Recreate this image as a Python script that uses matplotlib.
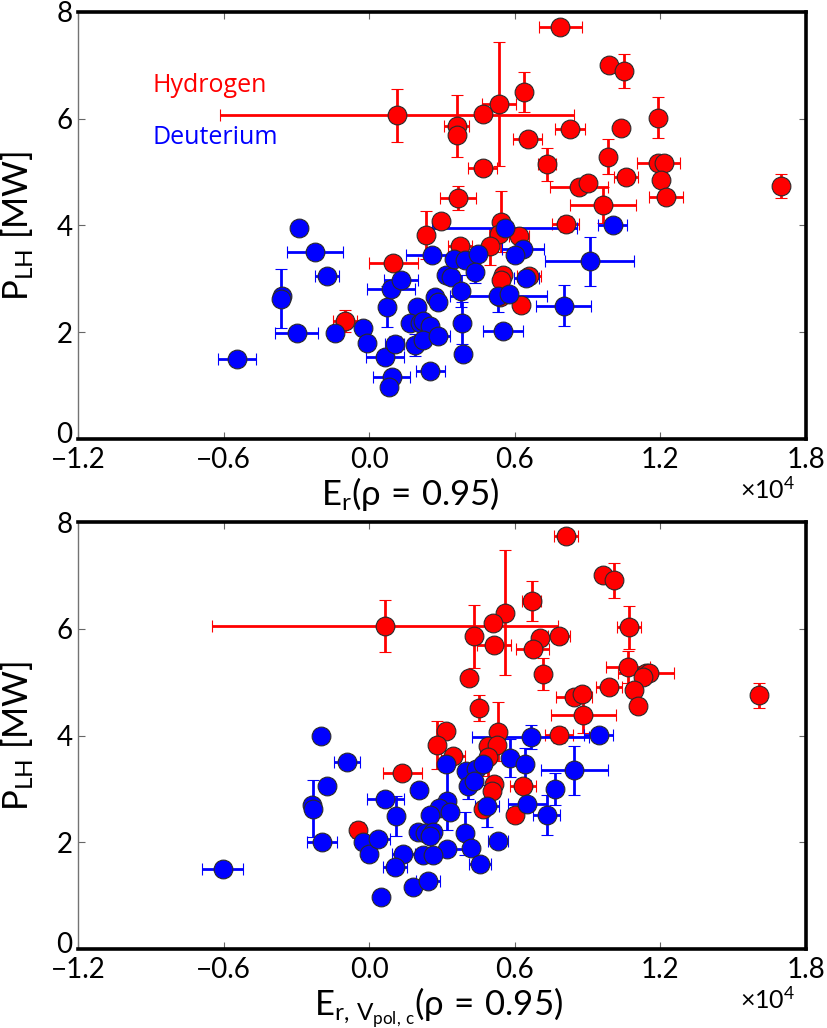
import matplotlib
matplotlib.use("Agg")
import matplotlib.pyplot as plt
import matplotlib.transforms as mtransforms
import numpy as np

plt.rcParams['font.family'] = ['Lato', 'DejaVu Sans']
plt.rcParams['mathtext.fontset'] = 'custom'
plt.rcParams['mathtext.rm'] = 'Lato'
plt.rcParams['mathtext.it'] = 'Lato'

# ---- upper panel: E_r at rho = 0.95 (units of 1e4) ----
top_h_x = [0.115, 0.36, 0.36, 0.365, 0.297, 0.236, 0.10, -0.10, 0.787, 0.99, 1.049, 0.535, 0.64, 0.467,
           0.827, 1.036, 1.192, 0.654, 0.467, 0.733, 0.986, 1.058, 1.192, 1.213, 1.203, 1.225, 1.697,
           0.866, 0.901, 0.963, 0.81, 0.545, 0.535, 0.617, 0.373, 0.497, 0.552, 0.543, 0.658, 0.537, 0.624]
top_h_y = [6.06, 5.86, 5.69, 4.51, 4.08, 3.82, 3.29, 2.21, 7.72, 7.00, 6.89, 6.28, 6.50, 6.09,
           5.81, 5.83, 6.02, 5.62, 5.07, 5.15, 5.29, 4.91, 5.17, 5.17, 4.85, 4.54, 4.74,
           4.72, 4.79, 4.38, 4.02, 4.07, 3.84, 3.81, 3.61, 3.61, 3.07, 2.98, 3.05, 2.66, 2.51]
top_h_xerr = [0.73, 0.05, 0, 0.075, 0, 0, 0.10, 0.05, 0.088, 0, 0, 0.07, 0, 0,
              0.062, 0, 0, 0.06, 0.058, 0.037, 0, 0.05, 0.09, 0, 0, 0.07, 0,
              0.12, 0, 0.135, 0.055, 0, 0, 0.04, 0.05, 0, 0, 0, 0.05, 0, 0]
top_h_yerr = [0.49, 0.58, 0, 0.23, 0, 0.45, 0, 0.2, 0, 0, 0.32, 1.16, 0.38, 0,
              0, 0, 0.39, 0, 0, 0.31, 0.33, 0, 0, 0, 0, 0, 0.23,
              0, 0, 0.34, 0.15, 0.57, 0, 0, 0, 0.35, 0, 0, 0, 0, 0]

top_d_x = [-0.289, -0.223, -0.173, -0.36, -0.365, -0.299, -0.141, -0.543, -0.025, -0.011, 0.064, 0.092,
           0.082, 0.074, 0.089, 0.133, 0.105, 0.195, 0.167, 0.209, 0.222, 0.25, 0.188, 0.222,
           0.284, 0.252, 0.26, 0.318, 0.339, 0.27, 0.284, 0.348, 0.394, 0.45, 0.435, 0.377,
           0.384, 0.388, 0.531, 0.576, 0.552, 0.801, 0.558, 1.004, 0.634, 0.60, 0.648, 0.908]
top_d_y = [3.96, 3.51, 3.05, 2.68, 2.63, 1.99, 1.99, 1.50, 2.07, 1.79, 1.54, 1.16,
           0.97, 2.48, 2.81, 2.98, 1.78, 2.48, 2.18, 2.18, 2.21, 2.12, 1.76, 1.85,
           1.92, 1.27, 3.45, 3.07, 3.04, 2.66, 2.57, 3.38, 3.35, 3.46, 3.13, 2.77,
           2.17, 1.60, 2.68, 2.71, 2.03, 2.50, 3.96, 4.01, 3.55, 3.45, 3.02, 3.33]
top_d_xerr = [0, 0.114, 0.05, 0, 0, 0.09, 0, 0.078, 0, 0, 0.078, 0.078,
              0, 0, 0.098, 0.07, 0.04, 0, 0, 0, 0, 0, 0, 0,
              0.05, 0.06, 0.11, 0, 0, 0, 0, 0, 0, 0, 0, 0,
              0, 0, 0.2, 0, 0.082, 0.115, 0.3, 0.06, 0.085, 0, 0.05, 0.185]
top_d_yerr = [0, 0, 0, 0, 0.55, 0, 0, 0, 0, 0, 0, 0,
              0, 0.38, 0, 0, 0.15, 0, 0, 0, 0, 0, 0.2, 0,
              0, 0, 0, 0, 0, 0, 0, 0, 0, 0, 0.2, 0.3,
              0.4, 0, 0.3, 0, 0, 0.38, 0, 0, 0, 0, 0, 0.46]

# ---- lower panel: E_r from poloidal velocity correction at rho = 0.95 ----
bot_h_x = [0.065, 0.81, 0.963, 1.007, 0.561, 0.67, 0.51, 0.432, 0.514, 0.703, 0.673, 0.782, 1.072, 0.412,
           0.716, 1.066, 1.142, 1.155, 1.13, 1.09, 0.988, 1.106, 1.607, 0.844, 0.875, 0.883, 0.451, 0.781,
           0.318, 0.531, 0.49, 0.527, 0.28, 0.346, 0.49, 0.136, 0.513, 0.507, 0.634, 0.469, 0.602, -0.048]
bot_h_y = [6.05, 7.74, 7.01, 6.91, 6.30, 6.52, 6.10, 5.86, 5.70, 5.83, 5.63, 5.87, 6.03, 5.07,
           5.16, 5.29, 5.18, 5.18, 5.10, 4.86, 4.90, 4.55, 4.75, 4.72, 4.78, 4.38, 4.52, 4.01,
           4.09, 4.07, 3.81, 3.83, 3.82, 3.61, 3.60, 3.29, 3.10, 2.96, 3.05, 2.63, 2.51, 2.23]
bot_h_xerr = [0.713, 0.05, 0, 0, 0, 0.04, 0, 0, 0.07, 0, 0.07, 0.045, 0.05, 0,
              0, 0.09, 0.115, 0, 0, 0, 0.055, 0, 0, 0.076, 0, 0.135, 0, 0.058,
              0, 0, 0, 0, 0, 0.05, 0, 0.08, 0, 0, 0.055, 0, 0, 0]
bot_h_yerr = [0.49, 0, 0, 0.33, 1.17, 0.37, 0, 0.59, 0, 0, 0, 0, 0.4, 0,
              0.3, 0.3, 0, 0, 0, 0, 0, 0, 0.23, 0, 0, 0.33, 0.24, 0.15,
              0, 0.55, 0, 0, 0.45, 0, 0.35, 0, 0, 0, 0, 0, 0, 0.15]

bot_d_x = [-0.20, -0.092, -0.174, -0.235, -0.23, -0.193, -0.603, -0.025, 0.0, 0.035, 0.067, 0.112,
           0.14, 0.105, 0.204, 0.182, 0.243, 0.047, 0.316, 0.321, 0.288, 0.332, 0.25, 0.202,
           0.229, 0.263, 0.252, 0.32, 0.394, 0.42, 0.531, 0.458, 0.22, 0.265, 0.401, 0.44,
           0.469, 0.408, 0.43, 0.486, 0.579, 0.665, 0.643, 0.652, 0.767, 0.732, 0.846, 0.946]
bot_d_y = [3.99, 3.51, 3.05, 2.69, 2.63, 2.00, 1.50, 2.00, 1.79, 2.07, 2.81, 2.49,
           1.78, 1.53, 2.98, 1.16, 1.27, 0.97, 3.46, 2.78, 2.65, 2.56, 2.51, 2.19,
           2.17, 2.20, 2.12, 1.87, 2.17, 1.90, 2.03, 1.60, 1.77, 1.77, 3.34, 3.37,
           3.46, 3.06, 3.15, 2.68, 3.58, 3.97, 3.46, 2.72, 3.00, 2.51, 3.35, 4.01]
bot_d_xerr = [0, 0.055, 0, 0, 0, 0.062, 0.084, 0, 0, 0.05, 0.075, 0,
              0.048, 0.05, 0, 0, 0.05, 0, 0, 0, 0, 0, 0, 0,
              0, 0, 0, 0.07, 0, 0, 0.04, 0.045, 0, 0, 0, 0,
              0, 0, 0, 0.05, 0, 0.24, 0, 0.08, 0, 0.055, 0.14, 0.06]
bot_d_yerr = [0, 0, 0, 0, 0.54, 0, 0, 0, 0, 0, 0, 0.38,
              0.1, 0, 0, 0, 0, 0, 0, 0.55, 0, 0, 0, 0,
              0, 0, 0, 0, 0.4, 0, 0, 0, 0, 0, 0, 0,
              0, 0.25, 0, 0.4, 0.36, 0.22, 0.3, 0, 0.3, 0.37, 0.46, 0]

x_ticks = [-1.2, -0.6, 0.0, 0.6, 1.2, 1.8]
x_tick_labels = ['\u22121.2', '\u22120.6', '0.0', '0.6', '1.2', '1.8']
y_ticks = [0, 2, 4, 6, 8]

fig = plt.figure(figsize=(8.27, 10.28), dpi=100)
ax_top = fig.add_axes([0.0943, 0.5730, 0.8803, 0.4154])
ax_bot = fig.add_axes([0.0943, 0.0768, 0.8803, 0.4154])

style = dict(fmt='o', ms=13.5, mew=0.8, mec='#2a2a2a', elinewidth=2.0, capsize=4, capthick=1.2)


def draw(ax, hx, hy, hxe, hye, dx, dy, dxe, dye, xlabel, label_x):
    ax.errorbar(hx, hy, xerr=hxe, yerr=hye, color='red', ecolor='red', mfc='red', **style)
    ax.errorbar(dx, dy, xerr=dxe, yerr=dye, color='blue', ecolor='blue', mfc='blue', **style)
    ax.set_xlim(-1.2, 1.8)
    ax.set_ylim(0, 8)
    ax.set_xticks(x_ticks)
    ax.set_xticklabels(x_tick_labels)
    ax.set_yticks(y_ticks)
    ax.tick_params(direction='in', top=True, right=True, length=5, width=0.8,
                   labelsize=20, pad=6, color='0.4')
    ax.tick_params(axis='y', pad=4)
    # lift the "0" label a little so it clears the first x tick label
    zero_label = ax.get_yticklabels()[0]
    zero_label.set_transform(zero_label.get_transform() +
                             mtransforms.ScaledTranslation(0, 5 / 72, fig.dpi_scale_trans))
    for side in ('top', 'right', 'bottom'):
        ax.spines[side].set_linewidth(2.6)
        ax.spines[side].set_color('black')
    ax.spines['left'].set_linewidth(1.0)
    ax.spines['left'].set_color('0.45')
    ax.set_xlabel(xlabel, fontsize=25)
    ax.xaxis.set_label_coords(label_x, -0.085, transform=ax.transAxes)
    ax.xaxis.label.set_va('top')
    ax.set_ylabel(r'$\mathrm{P_{LH}}$ [MW]', fontsize=25)
    ax.yaxis.set_label_coords(-0.058, 0.5, transform=ax.transAxes)
    ax.text(0.985, -0.118, r'$\times\mathrm{10^{4}}$', transform=ax.transAxes,
            ha='right', va='center', fontsize=18)


draw(ax_top, top_h_x, top_h_y, top_h_xerr, top_h_yerr,
     top_d_x, top_d_y, top_d_xerr, top_d_yerr, r'$\mathrm{E_r(\rho\,=\,0.95)}$', 0.457)
draw(ax_bot, bot_h_x, bot_h_y, bot_h_xerr, bot_h_yerr,
     bot_d_x, bot_d_y, bot_d_xerr, bot_d_yerr, r'$\mathrm{E_{r,\,V_{pol,\,c}}(\rho\,=\,0.95)}$', 0.495)

ax_top.text(-0.895, 6.63, 'Hydrogen', color='red', fontsize=18, ha='left', va='center',
            family=['Open Sans', 'DejaVu Sans'])
ax_top.text(-0.895, 5.64, 'Deuterium', color='blue', fontsize=18, ha='left', va='center',
            family=['Open Sans', 'DejaVu Sans'])

fig.savefig('out.png', dpi=100)
